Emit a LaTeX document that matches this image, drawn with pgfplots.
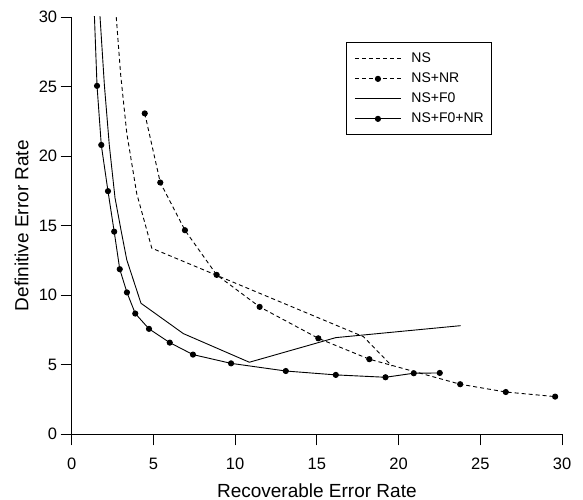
\documentclass[border=0pt]{standalone}
\usepackage{fontspec}
\setmainfont{Liberation Sans}
\usepackage{pgfplots}
\pgfplotsset{compat=1.18}
\begin{document}
\begin{tikzpicture}
\begin{axis}[
 scale only axis, width=490.3pt, height=417.3pt,
 xmin=0,xmax=30,ymin=0,ymax=30,
 axis lines*=left,
 xtick={0,5,...,30}, ytick={0,5,...,30},
 tick align=outside, major tick length=11pt,
 tick style={line width=0.9pt, black},
 axis line style={line width=0.9pt},
 /pgf/number format/assume math mode=true,
 tick label style={font=\fontsize{16.5}{16.5}\selectfont},
 xticklabel style={yshift=-9pt},
 xlabel={Recoverable Error Rate}, ylabel={Definitive Error Rate},
 label style={font=\fontsize{19}{19}\selectfont},
 xlabel style={at={(axis description cs:0.5,-0.134)}, anchor=center},
 ylabel style={at={(axis description cs:-0.102,0.5)}, anchor=center},
 legend style={at={(axis cs:16.79,28.17)}, anchor=north west, draw=black, line width=0.8pt,
   font=\fontsize{14}{14}\selectfont, inner xsep=8pt, inner ysep=6pt,
   column sep=10pt,
   nodes={inner xsep=0pt, inner ysep=3.5pt, text height=10pt, text depth=3pt},
   cells={anchor=west}},
 legend image code/.code={\draw[mark repeat=2,mark phase=2,#1] plot coordinates {(0pt,0pt) (23pt,0pt) (46pt,0pt)};},
 every axis plot/.append style={line width=0.9pt, black},
]
\addplot[dash pattern=on 4pt off 3pt] coordinates {
 (2.66,31) (3.0,25.8) (3.37,21.65) (3.98,17.3) (4.9,13.38) (17.85,7.02) (19.6,4.9)
};
\addlegendentry{NS}
\addplot[dash pattern=on 4pt off 3pt, mark=*, mark size=2.6pt, mark options={solid, fill=black}] coordinates {
 (4.47,23.07) (5.42,18.1) (6.93,14.67) (8.87,11.46) (11.5,9.16) (15.09,6.9) (18.21,5.4) (23.77,3.6) (26.56,3.04) (29.58,2.71)
};
\addlegendentry{NS+NR}
\addplot[solid, no marks] coordinates {
 (1.68,31) (2.0,25.1) (2.3,20.8) (2.65,17.0) (3.03,14.6) (3.37,12.54) (4.24,9.42) (6.83,7.24) (10.87,5.18) (16.16,6.95) (23.8,7.81)
};
\addlegendentry{NS+F0}
\addplot[solid, mark=*, mark size=2.6pt, mark options={solid, fill=black}] coordinates {
 (1.36,31) (1.55,25.05) (1.81,20.8) (2.22,17.48) (2.6,14.57) (2.94,11.87) (3.38,10.2) (3.89,8.68) (4.73,7.58) (6.0,6.59) (7.42,5.73) (9.75,5.1) (13.1,4.55) (16.16,4.27) (19.2,4.1) (20.93,4.39) (22.52,4.41)
};
\addlegendentry{NS+F0+NR}
\end{axis}
\pgfresetboundingbox
\path[use as bounding box] (-71.7pt,-65.7pt) rectangle (511.3pt,434.3pt);
\end{tikzpicture}
\end{document}
